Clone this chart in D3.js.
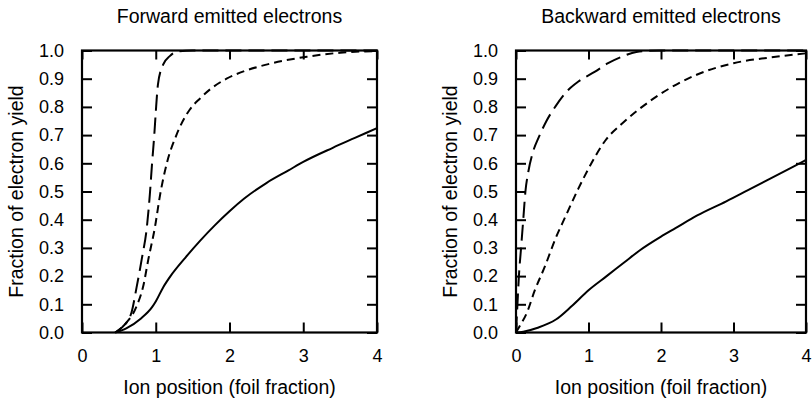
<!DOCTYPE html>
<html>
<head>
<meta charset="utf-8">
<script src="https://cdn.jsdelivr.net/npm/d3@7"></script>
<style>
  body { margin: 0; background: #fff; }
  svg { display: block; }
  text { font-family: "Liberation Sans", Arial, sans-serif; fill: #000; }
</style>
</head>
<body>
<div id="chart"></div>
<script>

// tick values and labels
var titles = ["Forward emitted electrons", "Backward emitted electrons"];
var xLabel = "Ion position (foil fraction)";
var yLabel = "Fraction of electron yield";
var xTicks = [0, 1, 2, 3, 4];
var yTicks = [0, 0.1, 0.2, 0.3, 0.4, 0.5, 0.6, 0.7, 0.8, 0.9, 1.0];

// forward emitted electrons, [ion position, fraction]
var fwdSolid = [[0.45,0],[0.6,0.015],[0.8,0.05],[0.95,0.09],[1.0,0.11],[1.1,0.16],[1.2,0.2],
                [1.4,0.265],[1.6,0.325],[1.8,0.38],[2.0,0.43],[2.2,0.475],[2.5,0.53],[2.8,0.575],
                [3.0,0.605],[3.4,0.655],[3.7,0.69],[4.0,0.725]];
var fwdShort = [[0.45,0],[0.6,0.034],[0.74,0.093],[0.83,0.164],[0.9,0.26],[0.99,0.375],[1.06,0.49],
                [1.15,0.6],[1.28,0.7],[1.46,0.79],[1.6,0.83],[1.75,0.865],[1.96,0.9],[2.2,0.927],
                [2.5,0.95],[3.05,0.978],[3.5,0.992],[4.0,0.998]];
var fwdLong  = [[0.45,0],[0.55,0.02],[0.67,0.07],[0.74,0.16],[0.81,0.26],[0.88,0.375],[0.92,0.49],
                [0.95,0.6],[0.98,0.7],[1.0,0.78],[1.03,0.88],[1.1,0.95],[1.19,0.98],[1.3,0.997],[1.5,1.0],[4.0,1.0]];

// backward emitted electrons
var bwdSolid = [[0,0],[0.1,0.003],[0.3,0.017],[0.55,0.046],[0.77,0.094],[1.0,0.15],[1.25,0.2],
                [1.5,0.25],[1.7,0.29],[2.0,0.34],[2.2,0.37],[2.5,0.415],[2.9,0.465],[3.2,0.505],
                [3.5,0.545],[3.8,0.585],[4.0,0.612]];
var bwdShort = [[0,0],[0.05,0.022],[0.15,0.07],[0.26,0.15],[0.4,0.235],[0.54,0.33],[0.68,0.41],
                [0.86,0.51],[1.04,0.6],[1.23,0.68],[1.46,0.74],[1.9,0.83],[2.5,0.915],[3.0,0.955],
                [3.5,0.975],[4.0,0.99]];
var bwdLong  = [[0,0],[0.02,0.1],[0.04,0.2],[0.07,0.3],[0.1,0.4],[0.13,0.5],[0.17,0.57],[0.24,0.645],
                [0.31,0.69],[0.42,0.75],[0.54,0.8],[0.72,0.86],[0.86,0.89],[1.09,0.925],[1.27,0.955],
                [1.46,0.978],[1.66,0.995],[2.0,1.0],[4.0,1.0]];

var panelSeries = [[fwdSolid, fwdShort, fwdLong], [bwdSolid, bwdShort, bwdLong]];
var dashes = [null, "8,5", "16,7"];

var width = 812, height = 401;
var plotTop = 50.5, plotBottom = 332.5;
var panels = [{left: 82, right: 377}, {left: 516, right: 806}];

var svg = d3.select("#chart").append("svg")
            .attr("width", width)
            .attr("height", height);

panels.forEach(function(p, i) {
  var x = d3.scaleLinear().domain([0, 4]).range([p.left, p.right]);
  var y = d3.scaleLinear().domain([0, 1]).range([plotBottom, plotTop]);
  var g = svg.append("g");

  // curves
  var line = d3.line()
               .x(function(d) { return x(d[0]); })
               .y(function(d) { return y(d[1]); })
               .curve(d3.curveMonotoneX);
  panelSeries[i].forEach(function(s, k) {
    g.append("path")
     .datum(s)
     .attr("d", line)
     .attr("fill", "none")
     .attr("stroke", "#000")
     .attr("stroke-width", 2)
     .attr("stroke-dasharray", dashes[k]);
  });

  // axes with inward ticks on all four sides
  var axB = g.append("g").attr("transform", "translate(0," + plotBottom + ")")
             .call(d3.axisBottom(x).tickValues(xTicks).tickFormat(d3.format("d"))
                     .tickSizeInner(-10).tickSizeOuter(0).tickPadding(17));
  var axT = g.append("g").attr("transform", "translate(0," + plotTop + ")")
             .call(d3.axisTop(x).tickValues(xTicks).tickFormat("")
                     .tickSizeInner(-9).tickSizeOuter(0));
  var axL = g.append("g").attr("transform", "translate(" + p.left + ",0)")
             .call(d3.axisLeft(y).tickValues(yTicks).tickFormat(d3.format(".1f"))
                     .tickSizeInner(-10).tickSizeOuter(0).tickPadding(18));
  var axR = g.append("g").attr("transform", "translate(" + p.right + ",0)")
             .call(d3.axisRight(y).tickValues(yTicks).tickFormat("")
                     .tickSizeInner(-10).tickSizeOuter(0));

  [axB, axT, axL, axR].forEach(function(a) {
    a.attr("font-size", null).attr("font-family", null);
    a.select(".domain").remove();
    a.selectAll(".tick line").attr("stroke", "#000").attr("stroke-width", 2);
    a.selectAll(".tick text").style("font-size", "18px").attr("fill", "#000");
  });

  // frame
  g.append("rect")
   .attr("x", p.left).attr("y", plotTop)
   .attr("width", p.right - p.left).attr("height", plotBottom - plotTop)
   .attr("fill", "none").attr("stroke", "#000").attr("stroke-width", 2.2);

  // titles and labels
  var cx = (p.left + p.right) / 2;
  g.append("text")
   .attr("x", cx).attr("y", 23)
   .attr("text-anchor", "middle")
   .style("font-size", "19.5px")
   .text(titles[i]);

  g.append("text")
   .attr("x", cx).attr("y", 394)
   .attr("text-anchor", "middle")
   .style("font-size", "19.5px")
   .text(xLabel);

  g.append("text")
   .attr("transform", "translate(" + (p.left - 59) + "," + ((plotTop + plotBottom) / 2) + ") rotate(-90)")
   .attr("text-anchor", "middle")
   .style("font-size", "19.5px")
   .text(yLabel);
});

</script>
</body>
</html>
